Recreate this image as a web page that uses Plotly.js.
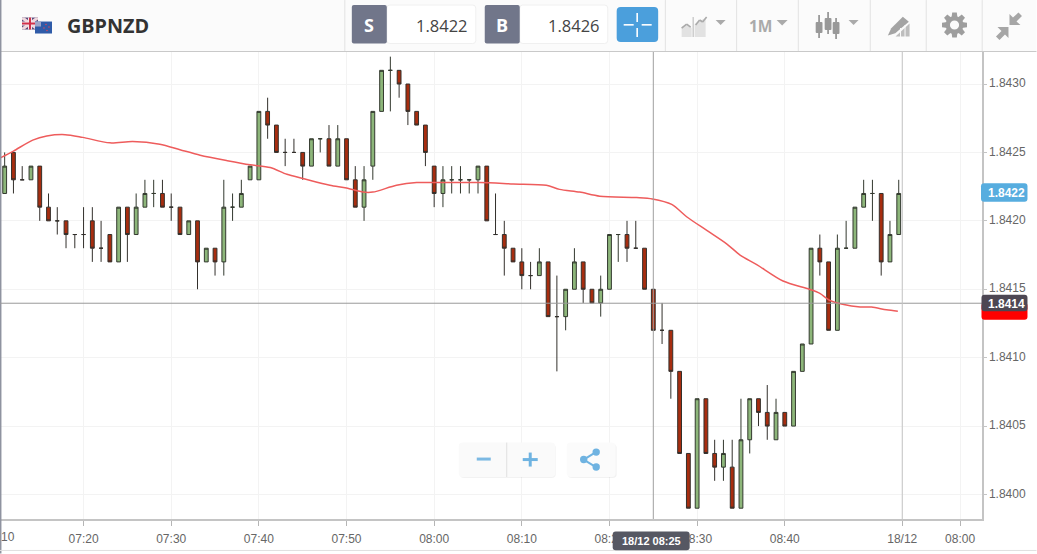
<!DOCTYPE html>
<html><head><meta charset="utf-8">
<script src="https://cdn.plot.ly/plotly-3.0.1.min.js"></script>
<style>html,body{margin:0;padding:0;background:#fff;overflow:hidden}#c{width:1037px;height:554px}</style>
</head><body><div id="c"></div>
<script>
const symbol = "GBPNZD";
const sellPrice = "1.8422";
const buyPrice = "1.8426";
const timeframe = "1M";
const crosshairTime = "08:25";
const crosshairLabel = "18/12 08:25";
const lastTime = "08:53:24";
const lastLabel = "1.8422";
const crossLabel = "1.8414";

const times = ["07:11","07:12","07:13","07:14","07:15","07:16","07:17","07:18","07:19","07:20","07:21","07:22","07:23","07:24","07:25","07:26","07:27","07:28","07:29","07:30","07:31","07:32","07:33","07:34","07:35","07:36","07:37","07:38","07:39","07:40","07:41","07:42","07:43","07:44","07:45","07:46","07:47","07:48","07:49","07:50","07:51","07:52","07:53","07:54","07:55","07:56","07:57","07:58","07:59","08:00","08:01","08:02","08:03","08:04","08:05","08:06","08:07","08:08","08:09","08:10","08:11","08:12","08:13","08:14","08:15","08:16","08:17","08:18","08:19","08:20","08:21","08:22","08:23","08:24","08:25","08:26","08:27","08:28","08:29","08:30","08:31","08:32","08:33","08:34","08:35","08:36","08:37","08:38","08:39","08:40","08:41","08:42","08:43","08:44","08:45","08:46","08:47","08:48","08:49","08:50","08:51","08:52","08:53"];
const opens = [1.8422,1.8425,1.8423,1.8423,1.8424,1.8421,1.8420,1.8420,1.8419,1.8419,1.8420,1.8418,1.8419,1.8417,1.8421,1.8419,1.8421,1.8422,1.8422,1.8421,1.8421,1.8419,1.8420,1.8417,1.8418,1.8417,1.8421,1.8421,1.8423,1.8423,1.8428,1.8427,1.8425,1.8425,1.8425,1.8424,1.8426,1.8426,1.8424,1.8426,1.8423,1.8421,1.8424,1.8428,1.8431,1.8431,1.8430,1.8428,1.8427,1.8424,1.8422,1.8423,1.8423,1.8423,1.8423,1.8424,1.8419,1.8419,1.8418,1.8417,1.8416,1.8416,1.8417,1.8413,1.8413,1.8415,1.8417,1.8415,1.8414,1.8415,1.8419,1.8419,1.8418,1.8418,1.8415,1.8412,1.8412,1.8409,1.8403,1.8399,1.8407,1.8403,1.8402,1.8402,1.8399,1.8404,1.8407,1.8406,1.8404,1.8406,1.8405,1.8409,1.8411,1.8418,1.8417,1.8412,1.8418,1.8418,1.8421,1.8422,1.8422,1.8417,1.8419];
const highs = [1.8425,1.8425,1.8424,1.8424,1.8424,1.8422,1.8421,1.8420,1.8419,1.8421,1.8421,1.8420,1.8419,1.8421,1.8421,1.8422,1.8423,1.8423,1.8423,1.8422,1.8421,1.8420,1.8420,1.8418,1.8418,1.8423,1.8422,1.8423,1.8424,1.8428,1.8429,1.8427,1.8426,1.8426,1.8425,1.8426,1.8426,1.8427,1.8427,1.8426,1.8424,1.8424,1.8428,1.8431,1.8432,1.8431,1.8430,1.8428,1.8427,1.8424,1.8424,1.8424,1.8424,1.8423,1.8424,1.8424,1.8422,1.8420,1.8418,1.8418,1.8417,1.8418,1.8417,1.8416,1.8415,1.8418,1.8417,1.8415,1.8416,1.8419,1.8419,1.8420,1.8420,1.8418,1.8415,1.8414,1.8412,1.8409,1.8403,1.8407,1.8407,1.8404,1.8404,1.8404,1.8407,1.8407,1.8407,1.8408,1.8407,1.8406,1.8409,1.8411,1.8418,1.8419,1.8417,1.8419,1.8420,1.8421,1.8423,1.8423,1.8422,1.8420,1.8423];
const lows = [1.8422,1.8422,1.8423,1.8423,1.8420,1.8420,1.8419,1.8418,1.8418,1.8418,1.8417,1.8417,1.8417,1.8417,1.8417,1.8419,1.8421,1.8421,1.8421,1.8420,1.8419,1.8419,1.8415,1.8417,1.8416,1.8416,1.8420,1.8421,1.8423,1.8423,1.8426,1.8425,1.8424,1.8425,1.8423,1.8424,1.8425,1.8424,1.8424,1.8423,1.8421,1.8420,1.8423,1.8428,1.8428,1.8429,1.8427,1.8427,1.8424,1.8421,1.8421,1.8422,1.8422,1.8422,1.8422,1.8420,1.8419,1.8416,1.8417,1.8415,1.8415,1.8416,1.8413,1.8409,1.8412,1.8415,1.8414,1.8414,1.8413,1.8415,1.8417,1.8417,1.8418,1.8415,1.8412,1.8411,1.8407,1.8403,1.8399,1.8399,1.8403,1.8401,1.8401,1.8399,1.8399,1.8403,1.8405,1.8404,1.8404,1.8405,1.8405,1.8409,1.8411,1.8416,1.8412,1.8412,1.8418,1.8418,1.8421,1.8420,1.8416,1.8417,1.8419];
const closes = [1.8424,1.8423,1.8423,1.8424,1.8421,1.8420,1.8420,1.8419,1.8419,1.8419,1.8418,1.8418,1.8417,1.8421,1.8419,1.8421,1.8422,1.8422,1.8421,1.8421,1.8419,1.8420,1.8417,1.8418,1.8417,1.8421,1.8421,1.8422,1.8424,1.8428,1.8427,1.8425,1.8425,1.8425,1.8424,1.8426,1.8426,1.8424,1.8426,1.8423,1.8421,1.8423,1.8428,1.8431,1.8431,1.8430,1.8428,1.8427,1.8425,1.8422,1.8423,1.8423,1.8423,1.8423,1.8424,1.8420,1.8419,1.8418,1.8417,1.8416,1.8416,1.8417,1.8413,1.8413,1.8415,1.8417,1.8415,1.8414,1.8415,1.8419,1.8419,1.8418,1.8418,1.8415,1.8412,1.8412,1.8409,1.8403,1.8399,1.8407,1.8403,1.8402,1.8403,1.8399,1.8404,1.8407,1.8406,1.8405,1.8406,1.8405,1.8409,1.8411,1.8418,1.8417,1.8412,1.8418,1.8418,1.8421,1.8422,1.8422,1.8417,1.8419,1.8422];

const smaTimes = ["07:10:30","07:12:00","07:14:12","07:15:48","07:17:54","07:19:54","07:23:00","07:25:36","07:28:42","07:31:00","07:33:18","07:36:24","07:39:00","07:41:18","07:43:12","07:45:00","07:48:06","07:50:00","07:51:54","07:53:00","07:55:42","07:58:00","07:59:30","08:05:12","08:09:00","08:12:48","08:14:18","08:16:36","08:18:54","08:23:06","08:24:54","08:27:06","08:28:48","08:31:06","08:33:24","08:34:54","08:36:48","08:39:48","08:42:48","08:44:00","08:45:06","08:46:36","08:48:36","08:49:54","08:51:36","08:52:54"];
const smaValues = [1.84246,1.84251,1.84259,1.84262,1.84263,1.84261,1.84257,1.84258,1.84256,1.84252,1.84248,1.84244,1.84241,1.84239,1.84234,1.84231,1.84226,1.84224,1.84221,1.84221,1.84226,1.84228,1.84228,1.84228,1.84227,1.84226,1.84223,1.84221,1.84218,1.84217,1.84216,1.84212,1.84203,1.84193,1.84183,1.84175,1.84168,1.84156,1.84150,1.84147,1.84142,1.84139,1.84137,1.84137,1.84135,1.84134];

const priceTicks = [1.84,1.8405,1.841,1.8415,1.842,1.8425,1.843];
const timeTicks = ["07:20","07:30","07:40","07:50","08:00","08:10","08:20","08:30","08:40","08:53:24","09:00"];
const timeTickLabels = ["07:20","07:30","07:40","07:50","08:00","08:10","08:20","08:30","08:40","18/12","08:00"];

const day = "2017-12-18 ";
const W = 1037, H = 554, mL = 0, mR = 54.5, mT = 52, mB = 34.5;
const px = x => (x - mL) / (W - mL - mR);
const py = y => 1 - (y - mT) / (H - mT - mB);
const shapes = [], notes = [];

function rr(x0, y0, x1, y1, r, fill, lc, lw) {
  const P = (x, y) => px(x) + "," + py(y);
  const d = r > 0 ?
    "M" + P(x0 + r, y0) + " L" + P(x1 - r, y0) + " Q" + P(x1, y0) + " " + P(x1, y0 + r) +
    " L" + P(x1, y1 - r) + " Q" + P(x1, y1) + " " + P(x1 - r, y1) +
    " L" + P(x0 + r, y1) + " Q" + P(x0, y1) + " " + P(x0, y1 - r) +
    " L" + P(x0, y0 + r) + " Q" + P(x0, y0) + " " + P(x0 + r, y0) + " Z" :
    "M" + P(x0, y0) + " L" + P(x1, y0) + " L" + P(x1, y1) + " L" + P(x0, y1) + " Z";
  shapes.push({type: "path", xref: "paper", yref: "paper", layer: "above", path: d,
    fillcolor: fill, line: {color: lc || "rgba(0,0,0,0)", width: lc ? (lw || 1) : 0}});
}
function poly(pts, fill) {
  const d = pts.map((p, i) => (i ? "L" : "M") + px(p[0]) + "," + py(p[1])).join(" ") + " Z";
  shapes.push({type: "path", xref: "paper", yref: "paper", layer: "above", path: d,
    fillcolor: fill, line: {color: "rgba(0,0,0,0)", width: 0}});
}
function ln(x0, y0, x1, y1, c, w, layer) {
  shapes.push({type: "line", xref: "paper", yref: "paper", layer: layer || "above",
    x0: px(x0), x1: px(x1), y0: py(y0), y1: py(y1), line: {color: c, width: w || 1}});
}
function circ(cx, cy, r, fill, lc, lw) {
  shapes.push({type: "circle", xref: "paper", yref: "paper", layer: "above",
    x0: px(cx - r), x1: px(cx + r), y0: py(cy - r), y1: py(cy + r),
    fillcolor: fill, line: {color: lc || "rgba(0,0,0,0)", width: lc ? (lw || 1) : 0}});
}
function txt(s, x, y, anchor, size, color, family, bold) {
  notes.push({text: bold ? "<b>" + s + "</b>" : s, xref: "paper", yref: "paper", x: px(x), y: py(y),
    xanchor: anchor, yanchor: "middle", showarrow: false, borderpad: 0,
    font: {size: size, color: color, family: family}});
}
const OS = '"Open Sans", sans-serif', LS = '"Liberation Sans", Arial, sans-serif';

// header band
rr(0, 0, W, 51.5, 0, "#fbfbfb");
ln(0, 51.5, W, 51.5, "#c9c9c9", 1);
ln(0.7, 0, 0.7, H, "#8f93a0", 1.5);
[345, 665.7, 737, 798.7, 870.7, 926.7, 982.7].forEach(x => ln(x, 0, x, 51, "#e2e2e2", 1));

// flags
rr(22, 17.5, 38, 29.5, 0, "#5a4a7a");
poly([[22,17.5],[24.5,17.5],[38,27.5],[38,29.5],[35.5,29.5],[22,19.5]], "#f0d8de");
poly([[35.5,17.5],[38,17.5],[38,19.5],[24.5,29.5],[22,29.5],[22,27.5]], "#f0d8de");
rr(28,17.5,32,29.5,0,"#f0e6ea");
rr(22,21.5,38,25.5,0,"#f0e6ea");
rr(29,17.5,31,29.5,0,"#d0304a");
rr(22,22.5,38,24.5,0,"#d0304a");
rr(35,21.5,52,33.5,0,"#2f5ba8");
rr(35,21.5,41,26.5,0,"#9fa5c8");
[[46,24.5],[49,27],[44,28],[47,30.5]].forEach(p => circ(p[0], p[1], 0.8, "#d9475a"));

txt(symbol, 66.5, 25, "left", 19.8, "#333333", OS, true);

// sell & buy
rr(387, 5, 476, 43.5, 3, "#ffffff", "#f0f0f0");
rr(352, 5, 387, 43.5, 2, "#71768a");
txt("S", 369.5, 25, "center", 18, "#ffffff", OS, true);
txt(sellPrice, 469, 25, "right", 16.5, "#444444", OS);
rr(520, 5, 608, 43.5, 3, "#ffffff", "#f0f0f0");
rr(485, 5, 520, 43.5, 2, "#71768a");
txt("B", 502.5, 25, "center", 18, "#ffffff", OS, true);
txt(buyPrice, 601, 25, "right", 16.5, "#444444", OS);

// crosshair toggle
rr(617, 7, 658.5, 42, 4, "#4b9fdc");
[[624,24,634,25.6],[642,24,652,25.6],[636.7,13,638.3,22],[636.7,28,638.3,37]].forEach(r => rr(r[0], r[1], r[2], r[3], 0, "#ffffff"));

// chart-type icon
poly([[682,37],[682,27],[687,24],[692,28],[692,37]], "#e2e2e2");
poly([[695,37],[695,24],[700,21],[706,18],[706,37]], "#e2e2e2");
ln(682, 28, 687, 24, "#aaaaaa", 1.6); ln(687, 24, 691, 27, "#aaaaaa", 1.6);
ln(696, 25, 700, 20, "#aaaaaa", 1.6); ln(700, 20, 703, 22, "#aaaaaa", 1.6); ln(703, 22, 707, 17, "#aaaaaa", 1.6);
ln(693.5, 17, 693.5, 37, "#b5b5b5", 1);
poly([[716,20],[726,20],[721,25]], "#aaaaaa");

// timeframe
txt(timeframe, 748.5, 26, "left", 15.5, "#aaaaaa", OS, true);
poly([[777,20],[788,20],[782.5,25.5]], "#aaaaaa");

// candle icon
[[819.5,15,38,22,33],[828.5,12,34,18,30],[836.5,18,39,22,34]].forEach(c => {
  ln(c[0], c[1], c[0], c[2], "#999999", 1.8);
  rr(c[0] - 3.4, c[3], c[0] + 3.4, c[4], 1, "#999999");
});
poly([[849,20],[859,20],[854,25]], "#aaaaaa");

// drawing icon
poly([[903.3,16.7],[909.3,21.7],[895.7,33.3],[888.3,35.5],[891.7,28.3]], "#a4a4a4");
poly([[896,36.5],[910,36.5],[910,23.5]], "#bdbdbd");
ln(901,28,901,37,"#fbfbfb",1); ln(905.5,25,905.5,37,"#fbfbfb",1);

// gear
for (let i = 0; i < 8; i++) {
  const a = i * Math.PI / 4, c = Math.cos(a), s = Math.sin(a), cx = 955, cy = 25;
  const p = (u, v) => [cx + u * c - v * s, cy + u * s + v * c];
  poly([p(7, -3), p(12.5, -2.3), p(12.5, 2.3), p(7, 3)], "#9e9e9e");
}
circ(955, 25, 6.8, "#fbfbfb", "#9e9e9e", 4.4);

// compress icon
poly([[1010,14],[1013.5,17.5],[1019,12.5],[1022.5,16],[1017,21.5],[1021,25],[1010,25]], "#a6a6a6");
poly([[998,27],[1009,27],[1009,38],[1005.5,34.5],[1000,40],[996.5,36.5],[1002,31]], "#a6a6a6");

// zoom buttons
rr(460, 444.5, 556, 478.5, 4, "rgba(0,0,0,0.05)");
rr(459, 443, 555.5, 477.5, 4, "#fafafa");
ln(507, 443, 507, 477.5, "#e0e0e0", 1);
rr(477, 458, 491, 461, 0, "#7cb9e3");
rr(523, 458.5, 538, 461.5, 0, "#6fb3e1");
rr(529, 453, 532, 467, 0, "#6fb3e1");
rr(568, 444.5, 617, 478.5, 4, "rgba(0,0,0,0.05)");
rr(567, 443, 616, 477.5, 4, "#fbfbfb");
ln(584, 460, 597, 452, "#6fb3e1", 2); ln(584, 460, 597, 468, "#6fb3e1", 2);
circ(584, 460, 3.7, "#6fb3e1"); circ(596.5, 452.5, 3.7, "#6fb3e1"); circ(596.5, 467.5, 3.7, "#6fb3e1");

// crosshair
ln(0, 303.5, 982.5, 303.5, "#999999", 1);
shapes.push({type: "line", xref: "x", yref: "paper", layer: "above", x0: day + crosshairTime, x1: day + crosshairTime, y0: 0, y1: 1, line: {color: "#9f9f9f", width: 1}});
shapes.push({type: "line", xref: "x", yref: "paper", layer: "above", x0: day + lastTime, x1: day + lastTime, y0: 0, y1: 1, line: {color: "#c4c4c4", width: 1}});

// price tags
rr(981.5, 183.5, 1028, 202, 3, "#57addf");
txt(lastLabel, 1007, 193, "center", 12, "#ffffff", LS, true);
rr(982, 303, 1028, 320, 3, "#ff0000");
rr(982, 295, 1028, 311.5, 3, "#4d4753");
txt(crossLabel, 1007.5, 304, "center", 12, "#ffffff", LS, true);

// bottom strip
ln(0, 551, W, 551, "#e0e0e0", 1);
rr(613, 532, 690, 550.7, 3, "#565863");
txt(crosshairLabel, 651.5, 541.5, "center", 11, "#ffffff", LS, true);

// clipped first tick label
txt("10", 0, 538, "left", 12, "#666666", LS);

const traces = [{
  type: "candlestick", name: symbol,
  x: times.map(t => day + t), open: opens, high: highs, low: lows, close: closes,
  increasing: {line: {color: "#33392f", width: 1}, fillcolor: "#8db67a"},
  decreasing: {line: {color: "#33302c", width: 1}, fillcolor: "#a72d0f"},
  whiskerwidth: 0, hoverinfo: "skip"
}, {
  type: "scatter", mode: "lines", name: "SMA",
  x: smaTimes.map(t => day + t), y: smaValues,
  line: {color: "#ee5c5c", width: 1.5, shape: "spline", smoothing: 0.8}, hoverinfo: "skip"
}];

const layout = {
  width: W, height: H, showlegend: false,
  paper_bgcolor: "#ffffff", plot_bgcolor: "#ffffff",
  margin: {l: mL, r: mR, t: mT, b: mB, pad: 0},
  boxgap: 0.38,
  xaxis: {type: "date", range: [day + "07:10:28", day + "09:02:30"], rangeslider: {visible: false},
    tickmode: "array", tickvals: timeTicks.map(t => day + t), ticktext: timeTickLabels,
    showgrid: true, gridcolor: "#f3f3f3", gridwidth: 1, zeroline: false,
    showline: true, linecolor: "#c4c4c4", linewidth: 1.5,
    ticks: "outside", ticklen: 5, tickcolor: "#b5b5b5", tickwidth: 1, ticklabelstandoff: 3,
    tickfont: {family: LS, size: 12, color: "#666666"}},
  yaxis: {side: "right", range: [1.84 - 0.000179, 1.84 + 0.003234], autorange: false,
    tickmode: "array", tickvals: priceTicks, ticktext: priceTicks.map(v => v.toFixed(4)),
    showgrid: true, gridcolor: "#f3f3f3", gridwidth: 1, zeroline: false,
    showline: true, linecolor: "#c4c4c4", linewidth: 1.5,
    ticks: "outside", ticklen: 3, tickcolor: "#c4c4c4", tickwidth: 1, ticklabelshift: -1,
    tickfont: {family: LS, size: 12, color: "#666666"}},
  shapes: shapes, annotations: notes
};
Plotly.newPlot("c", traces, layout, {displayModeBar: false, staticPlot: true});
</script></body></html>
